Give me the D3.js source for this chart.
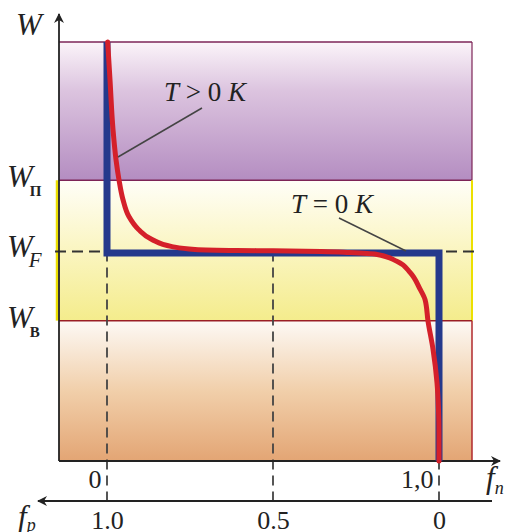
<!DOCTYPE html>
<html><head><meta charset="utf-8">
<script src="https://cdn.jsdelivr.net/npm/d3@7"></script>
<style>body{margin:0;background:#fff}svg{display:block}
text{font-family:"Liberation Serif","Times New Roman",Times,"DejaVu Serif",serif}</style>
</head><body>
<svg id="c" width="506" height="532"></svg>
<script>
// ---- data ----
const fTicksN = [0, 1];            // f_n tick positions
const fTickLabelsN = ["0", "1,0"];
const fTicksP = [1, 0.5, 0];       // f_p tick positions
const fTickLabelsP = ["1.0", "0.5", "0"];
const bandLevels = {top: 3.0, c: 1.02, f: 0, v: -0.99, bottom: -3.0}; // W levels (W_П, W_F, W_В)
// Fermi function T>0 K: [f_n, W]
const redF = [0.002,0.009,0.018,0.027,0.036,0.048,0.066,0.095,0.136,0.196,0.265,0.39,0.5,0.645,0.73,0.81,0.873,0.913,0.943,0.958,0.967,0.982,0.994,0.9985,1.0,1.0];
const redW = [3.0,2.46,1.75,1.32,1.03,0.745,0.50,0.315,0.17,0.07,0.03,0.015,0.01,0.0,-0.015,-0.04,-0.14,-0.30,-0.54,-0.69,-1.0,-1.40,-1.88,-2.26,-2.59,-3.0];
// step function T=0 K
const blueF = [0, 0, 1, 1];
const blueW = [3.0, -0.02, -0.02, -3.0];

// ---- scales ----
const x = d3.scaleLinear().domain([0, 1]).range([107, 439]);
const xP = d3.scaleLinear().domain([1, 0]).range([107, 439]);
const y = d3.scaleLinear().domain([-3, 3]).range([461, 42]);
const xL = 59, xR = 472;

const svg = d3.select("#c");
const defs = svg.append("defs");
function grad(id, stops){
  const g = defs.append("linearGradient").attr("id", id).attr("x1",0).attr("y1",0).attr("x2",0).attr("y2",1);
  stops.forEach(s => g.append("stop").attr("offset", s[0]).attr("stop-color", s[1]));
}
grad("gP", [[0,"#fbf4f9"],[0.35,"#dcc4df"],[1,"#b48dc1"]]);
grad("gY", [[0,"#fffef8"],[0.45,"#fbf6c6"],[1,"#f4ec8c"]]);
grad("gO", [[0,"#fdf9f5"],[0.5,"#f1cfaa"],[1,"#e3a574"]]);
const mk = defs.append("marker").attr("id","arr").attr("viewBox","0 0 10 10").attr("refX",9).attr("refY",5)
  .attr("markerWidth",16).attr("markerHeight",10).attr("markerUnits","userSpaceOnUse").attr("orient","auto");
mk.append("path").attr("d","M0,0 L10,5 L0,10 L3,5 Z").attr("fill","#222");

// bands
svg.append("rect").attr("x", xL).attr("y", y(bandLevels.top)).attr("width", xR - xL)
  .attr("height", y(bandLevels.c) - y(bandLevels.top)).attr("fill", "url(#gP)");
svg.append("rect").attr("x", xL).attr("y", y(bandLevels.c)).attr("width", xR - xL)
  .attr("height", y(bandLevels.v) - y(bandLevels.c)).attr("fill", "url(#gY)");
svg.append("rect").attr("x", xL).attr("y", y(bandLevels.v)).attr("width", xR - xL)
  .attr("height", y(bandLevels.bottom) - y(bandLevels.v)).attr("fill", "url(#gO)");
// band borders
const line = (x1,y1,x2,y2,c,w) => svg.append("line").attr("x1",x1).attr("y1",y1).attr("x2",x2).attr("y2",y2).attr("stroke",c).attr("stroke-width",w);
line(xL, y(bandLevels.top), xR, y(bandLevels.top), "#7d2457", 1.5);
line(xL, y(bandLevels.c), xR, y(bandLevels.c), "#7d2457", 1.5);
line(xR, y(bandLevels.top), xR, y(bandLevels.c), "#7d2457", 1.2);
line(xL-2, y(bandLevels.c), xL-2, y(bandLevels.v), "#ece000", 2.5);
line(xR, y(bandLevels.c), xR, y(bandLevels.v), "#ece000", 2);
line(xL, y(bandLevels.v), xR, y(bandLevels.v), "#9a1e24", 1.5);
line(xR, y(bandLevels.v), xR, y(bandLevels.bottom), "#b0282c", 1.5);

// dashed guide lines
const dash = "11,6";
line(xL - 4, y(bandLevels.f), xR + 2, y(bandLevels.f), "#333", 1.8).attr("stroke-dasharray", dash);
[0, 0.5, 1].forEach(v => line(x(v), y(bandLevels.f), x(v), 501, "#444", 1.8).attr("stroke-dasharray", "10,6"));

// axes lines
line(xL, 461, xL, 14, "#222", 1.8).attr("marker-end", "url(#arr)");
line(xL, 461, 500, 461, "#222", 1.8).attr("marker-end", "url(#arr)");
line(492, 501, 38, 501, "#222", 1.8).attr("marker-end", "url(#arr)");

// axis tick labels via d3 axes
const serif = "'Liberation Serif', 'Times New Roman', Times, 'DejaVu Serif', serif";
const axN = svg.append("g").attr("transform", "translate(0,461)")
  .call(d3.axisBottom(x).tickValues(fTicksN).tickSize(0).tickPadding(0).tickFormat((d,i) => fTickLabelsN[i]));
axN.select(".domain").remove();
axN.attr("font-family", serif).attr("font-size", 26);
axN.selectAll("text").attr("text-anchor", "end").attr("dx", -6).attr("dy", 0).attr("y", 27)
  .style("font-family", serif).style("font-size", "26px").attr("fill", "#222");
const axP = svg.append("g").attr("transform", "translate(0,501)")
  .call(d3.axisBottom(xP).tickValues(fTicksP).tickSize(0).tickPadding(0).tickFormat((d,i) => fTickLabelsP[i]));
axP.select(".domain").remove();
axP.attr("font-family", serif).attr("font-size", 26);
axP.selectAll("text").attr("dy", 0).attr("y", 28)
  .style("font-family", serif).style("font-size", "26px").attr("fill", "#222");

// curves
const gen = d3.line().x(d => x(d[0])).y(d => y(d[1]));
svg.append("path").datum(blueF.map((f,i) => [f, blueW[i]])).attr("d", gen)
  .attr("fill", "none").attr("stroke", "#25398c").attr("stroke-width", 7).attr("stroke-linejoin", "miter");
svg.append("path").datum(redF.map((f,i) => [f, redW[i]])).attr("d", gen.curve(d3.curveMonotoneY))
  .attr("fill", "none").attr("stroke", "#d4202a").attr("stroke-width", 5).attr("stroke-linecap", "round");

// leader lines
line(202, 108, 118, 157, "#444", 1.5);
line(339, 218, 406, 251, "#444", 1.5);

// texts
function lab(xp, yp, parts, size){
  const t = svg.append("text").attr("x", xp).attr("y", yp).style("font-family", serif).style("font-size", size + "px").attr("fill", "#222");
  parts.forEach(p => {
    const s = t.append("tspan").text(p.t);
    if (p.i) s.style("font-style", "italic");
    if (p.b) s.style("font-weight", "bold");
    if (p.s) s.style("font-size", p.s + "px");
    if (p.dy !== undefined) s.attr("dy", p.dy);
    if (p.dx !== undefined) s.attr("dx", p.dx);
  });
  return t;
}
lab(16, 35, [{t:"W", i:1}], 31);
lab(7, y(bandLevels.c) + 7, [{t:"W", i:1}, {t:"П", b:1, s:15, dy:9, dx:-3}], 31);
lab(7, y(bandLevels.f) + 5, [{t:"W", i:1}, {t:"F", i:1, s:21, dy:10, dx:-4}], 31);
lab(7, y(bandLevels.v) + 7, [{t:"W", i:1}, {t:"В", b:1, s:15, dy:9, dx:-3}], 31);
lab(164, 101, [{t:"T", i:1}, {t:" > 0 "}, {t:"K", i:1}], 27);
lab(291, 213, [{t:"T", i:1}, {t:" = 0 "}, {t:"K", i:1}], 27);
lab(486, 488, [{t:"f", i:1}, {t:"n", i:1, s:18, dy:6}], 31);
lab(18, 527, [{t:"f", i:1}, {t:"p", i:1, s:18, dy:4}], 31);
</script>
</body></html>
